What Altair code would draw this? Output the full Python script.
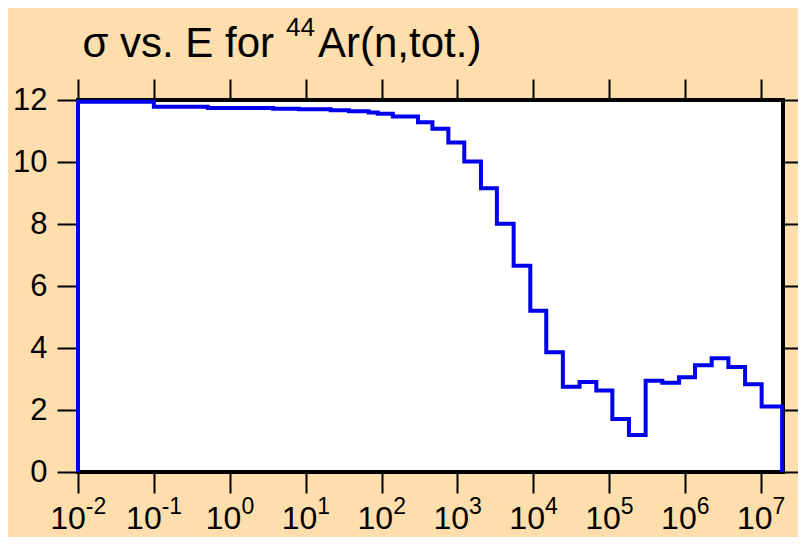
import altair as alt
import pandas as pd

# Bin edges of the energy grid (eV) and the cross section in each bin (barns)
energy_edges = [0.01, 0.1, 0.513, 3.72, 8.13, 21.4, 37.2, 67.6, 89.1, 141, 302, 468,
                759, 1230, 2040, 3310, 5500, 9120, 14800, 24500, 40700, 67600,
                110000, 182000, 302000, 501000, 832000, 1350000, 2240000, 3720000,
                6170000, 10200000, 19000000]
sigma = [11.94, 11.78, 11.74, 11.72, 11.70, 11.67, 11.64, 11.60, 11.56, 11.47,
         11.28, 11.07, 10.63, 10.02, 9.15, 8.01, 6.65, 5.20, 3.86, 2.75, 2.90,
         2.63, 1.71, 1.19, 2.94, 2.88, 3.06, 3.44, 3.67, 3.39, 2.83, 2.11]

decade_exponents = [-2, -1, 0, 1, 2, 3, 4, 5, 6, 7]
y_ticks = [0, 2, 4, 6, 8, 10, 12]

title_main = "σ vs. E for"
title_sup = "44"
title_rest = "Ar(n,tot.)"

W, H = 705, 372
FONT = "Liberation Sans"

rows = [{"E": energy_edges[0], "s": 0.0, "o": 0}]
for i, v in enumerate(sigma):
    rows.append({"E": energy_edges[i], "s": v, "o": i + 1})
rows.append({"E": energy_edges[-1], "s": sigma[-1], "o": len(sigma) + 1})
rows.append({"E": energy_edges[-1], "s": 0.0, "o": len(sigma) + 2})
df = pd.DataFrame(rows)

tick_vals = [10.0 ** e for e in decade_exponents]
xscale = alt.Scale(type="log", domain=[0.01, 1.95e7], nice=False)
yscale = alt.Scale(domain=[0, 12], nice=False, zero=False)

tick_style = dict(tickSize=21, tickWidth=2, tickColor="black", domain=False,
                  grid=False, title=None)

line = alt.Chart(df).mark_line(interpolate="step-after", color="#0000EE",
                               strokeWidth=4).encode(
    x=alt.X("E:Q", scale=xscale,
            axis=alt.Axis(orient="bottom", values=tick_vals, labels=False, **tick_style)),
    y=alt.Y("s:Q", scale=yscale,
            axis=alt.Axis(orient="left", values=y_ticks, labelFontSize=31,
                          labelFont=FONT, labelColor="black", labelPadding=10,
                          **tick_style)),
    order="o:Q",
)

frame_axes = alt.Chart(df).mark_point(opacity=0).encode(
    x=alt.X("E:Q", scale=xscale,
            axis=alt.Axis(orient="top", values=tick_vals, labels=False, **tick_style)),
    y=alt.Y("s:Q", scale=yscale,
            axis=alt.Axis(orient="right", values=y_ticks, labels=False, **tick_style)),
)

lab = pd.DataFrame({"E": tick_vals, "base": ["10"] * len(decade_exponents),
                    "sup": [str(e) for e in decade_exponents],
                    "neg": [e < 0 for e in decade_exponents]})
neg = lab[lab["neg"]]
pos = lab[~lab["neg"]]


def label_layers(d, off):
    base = alt.Chart(d).mark_text(align="right", baseline="alphabetic", fontSize=32,
                                  font=FONT, color="black", dx=off).encode(
        x=alt.X("E:Q", scale=xscale, axis=None), y=alt.value(H + 57), text="base:N")
    sup = alt.Chart(d).mark_text(align="left", baseline="alphabetic", fontSize=23,
                                 font=FONT, color="black", dx=off).encode(
        x=alt.X("E:Q", scale=xscale, axis=None), y=alt.value(H + 42), text="sup:N")
    return [base, sup]


t1 = alt.Chart(pd.DataFrame({"t": [title_main]})).mark_text(
    align="right", baseline="alphabetic", fontSize=42, font=FONT, color="black").encode(
    x=alt.value(196), y=alt.value(-43), text="t:N")
t2 = alt.Chart(pd.DataFrame({"t": [title_sup]})).mark_text(
    align="left", baseline="alphabetic", fontSize=26, font=FONT, color="black").encode(
    x=alt.value(208), y=alt.value(-64), text="t:N")
t3 = alt.Chart(pd.DataFrame({"t": [title_rest]})).mark_text(
    align="left", baseline="alphabetic", fontSize=42, font=FONT, color="black").encode(
    x=alt.value(240), y=alt.value(-43), text="t:N")

chart = alt.layer(
    line, frame_axes, *label_layers(neg, 7.8), *label_layers(pos, 11.6), t1, t2, t3
).resolve_axis(x="independent", y="independent").properties(
    width=W, height=H,
    padding={"left": 70, "top": 92, "right": 15, "bottom": 65},
    autosize=alt.AutoSizeParams(type="none"),
    background="#FFDEAD",
).configure_view(stroke="black", strokeWidth=4, fill="white")

chart.save("out.html", embed_options={"renderer": "svg", "actions": False})
